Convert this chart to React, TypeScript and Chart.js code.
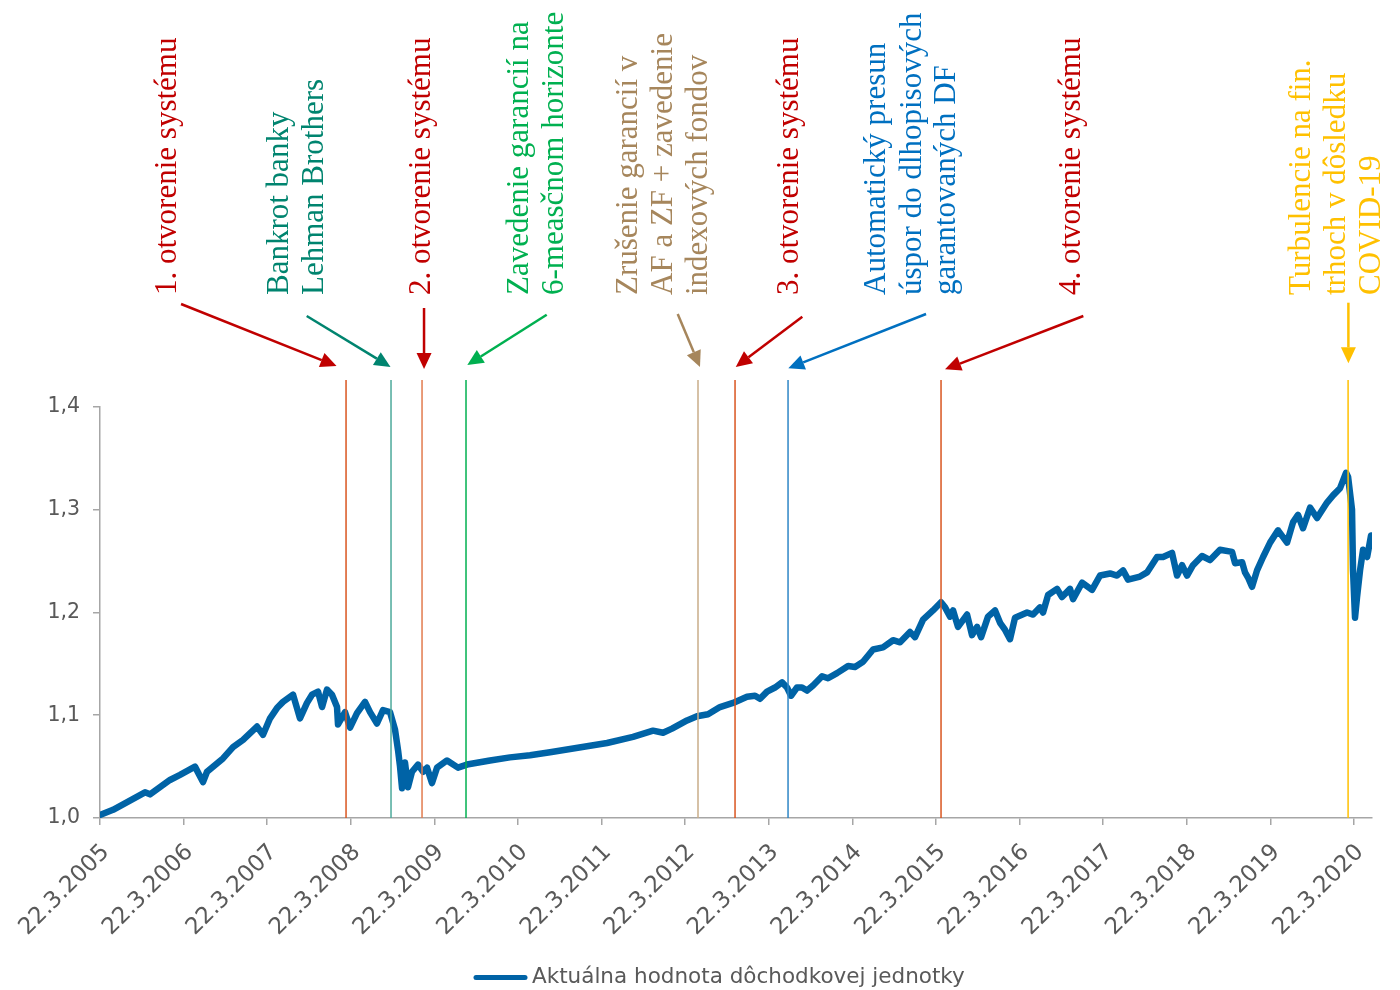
import React, { useEffect, useRef } from 'react';
import { Chart, registerables } from 'chart.js';

Chart.register(...registerables);

// ---------- DATA ----------
const seriesLabel = 'Aktuálna hodnota dôchodkovej jednotky';

// decimal years
const dates = [
  2005.220, 2005.376, 2005.758, 2005.818, 2006.057, 2006.177, 2006.356, 2006.452, 2006.500, 2006.691,
  2006.811, 2006.931, 2007.098, 2007.170, 2007.254, 2007.337, 2007.409, 2007.529, 2007.612, 2007.696,
  2007.756, 2007.828, 2007.876, 2007.935, 2007.995, 2008.055, 2008.067, 2008.151, 2008.211, 2008.294,
  2008.390, 2008.450, 2008.533, 2008.605, 2008.689, 2008.749, 2008.785, 2008.809, 2008.833, 2008.868,
  2008.904, 2008.952, 2009.024, 2009.084, 2009.132, 2009.191, 2009.251, 2009.371, 2009.502, 2009.610,
  2009.885, 2010.124, 2010.364, 2010.603, 2011.285, 2011.596, 2011.835, 2011.955, 2012.062, 2012.242,
  2012.361, 2012.493, 2012.636, 2012.792, 2012.959, 2013.055, 2013.115, 2013.199, 2013.294, 2013.378,
  2013.438, 2013.486, 2013.557, 2013.617, 2013.677, 2013.749, 2013.857, 2013.928, 2014.036, 2014.168,
  2014.251, 2014.347, 2014.467, 2014.586, 2014.706, 2014.790, 2014.909, 2014.969, 2015.065, 2015.184,
  2015.280, 2015.328, 2015.388, 2015.424, 2015.483, 2015.591, 2015.651, 2015.711, 2015.759, 2015.842,
  2015.926, 2015.986, 2016.046, 2016.105, 2016.165, 2016.309, 2016.381, 2016.464, 2016.500, 2016.560,
  2016.668, 2016.727, 2016.823, 2016.859, 2016.967, 2017.086, 2017.182, 2017.302, 2017.385, 2017.457,
  2017.517, 2017.660, 2017.744, 2017.864, 2017.936, 2018.043, 2018.103, 2018.163, 2018.223, 2018.294,
  2018.402, 2018.498, 2018.617, 2018.761, 2018.797, 2018.881, 2018.916, 2018.952, 2019.000, 2019.060,
  2019.132, 2019.216, 2019.311, 2019.419, 2019.491, 2019.550, 2019.610, 2019.694, 2019.778, 2019.897,
  2019.969, 2020.053, 2020.125, 2020.149, 2020.196, 2020.208, 2020.232, 2020.256, 2020.292, 2020.328,
  2020.377, 2020.424,
];

const values = [
  1.003, 1.008, 1.025, 1.023, 1.037, 1.042, 1.050, 1.035, 1.045, 1.058,
  1.069, 1.076, 1.089, 1.081, 1.097, 1.107, 1.113, 1.120, 1.097, 1.112,
  1.120, 1.123, 1.108, 1.125, 1.120, 1.108, 1.091, 1.103, 1.088, 1.102,
  1.113, 1.103, 1.092, 1.105, 1.103, 1.086, 1.066, 1.050, 1.029, 1.054,
  1.030, 1.045, 1.052, 1.045, 1.049, 1.034, 1.049, 1.056, 1.049, 1.052,
  1.056, 1.059, 1.061, 1.064, 1.073, 1.079, 1.085, 1.083, 1.087, 1.095,
  1.099, 1.101, 1.108, 1.112, 1.118, 1.119, 1.116, 1.123, 1.127, 1.132,
  1.127, 1.119, 1.127, 1.127, 1.124, 1.129, 1.138, 1.136, 1.141, 1.148,
  1.147, 1.152, 1.164, 1.166, 1.173, 1.171, 1.181, 1.176, 1.193, 1.202,
  1.210, 1.205, 1.196, 1.202, 1.186, 1.198, 1.178, 1.186, 1.176, 1.196,
  1.202, 1.190, 1.183, 1.174, 1.195, 1.200, 1.198, 1.205, 1.200, 1.217,
  1.223, 1.215, 1.223, 1.213, 1.229, 1.222, 1.236, 1.238, 1.236, 1.241,
  1.232, 1.235, 1.239, 1.254, 1.254, 1.258, 1.236, 1.246, 1.236, 1.246,
  1.255, 1.251, 1.261, 1.259, 1.248, 1.249, 1.239, 1.234, 1.225, 1.241,
  1.254, 1.268, 1.280, 1.268, 1.288, 1.295, 1.282, 1.302, 1.292, 1.307,
  1.314, 1.321, 1.336, 1.332, 1.300, 1.241, 1.195, 1.215, 1.241, 1.261,
  1.254, 1.275,
];

const tickPositions = [
  2005.22, 2006.22, 2007.22, 2008.22, 2009.22, 2010.22, 2011.22, 2012.22,
  2013.22, 2014.22, 2015.22, 2016.22, 2017.22, 2018.22, 2019.22, 2020.22,
];
const tickLabels = [
  '22.3.2005', '22.3.2006', '22.3.2007', '22.3.2008', '22.3.2009', '22.3.2010', '22.3.2011', '22.3.2012',
  '22.3.2013', '22.3.2014', '22.3.2015', '22.3.2016', '22.3.2017', '22.3.2018', '22.3.2019', '22.3.2020',
];

const xMin = 2005.22;
const xMax = 2020.435;
const yMin = 1.0;
const yMax = 1.4;
const yStep = 0.1;

const eventDates = [2008.163, 2008.701, 2009.072, 2009.598, 2012.373, 2012.816, 2013.450, 2015.280, 2020.149];
const eventTexts = [
  ['1. otvorenie systému'],
  ['Bankrot banky', 'Lehman Brothers'],
  ['2. otvorenie systému'],
  ['Zavedenie garancií na', '6-measčnom horizonte'],
  ['Zrušenie garancií v', 'AF a ZF + zavedenie', 'indexových fondov'],
  ['3. otvorenie systému'],
  ['Automatický presun', 'úspor do dlhopisových', 'garantovaných DF'],
  ['4. otvorenie systému'],
  ['Turbulencie na fin.', 'trhoch v dôsledku', 'COVID-19'],
];

// ---------- STYLES / POSITIONS ----------
const RED = '#C00000';
const eventStyles = [
  { line: '#D9551F', text: RED, dx: [-170], from: [-165, 304], to: [-9.5, 366] },
  { line: '#4DA99B', text: '#00846F', dx: [-102.7, -67.7], from: [-84.3, 316], to: [-0.5, 367] },
  { line: '#E27B4E', text: RED, dx: [8], from: [2, 308], to: [2, 369] },
  { line: '#00B050', text: '#00B050', dx: [61.7, 97.3], from: [80.7, 314.7], to: [1.3, 365] },
  { line: '#C9AC88', text: '#A6865C', dx: [-60.7, -26.3, 8.7], from: [-20.3, 314], to: [2, 367] },
  { line: '#D9551F', text: RED, dx: [63.3], from: [67.3, 316.7], to: [0.7, 367] },
  { line: '#2E86C6', text: '#0070C0', dx: [97, 132.7, 167], from: [138, 314], to: [0.3, 368.3] },
  { line: '#D9551F', text: RED, dx: [139], from: [142.3, 316], to: [4, 369.3] },
  { line: '#FFC000', text: '#FFC000', dx: [-38, -3, 32], from: [0.3, 302.7], to: [0.3, 363.3] },
];
const EVENT_LINE_TOP = 380;
const TEXT_BOTTOM = 295;
const SERIES_COLOR = '#0063A6';
const AXIS_COLOR = '#A6A6A6';
const LABEL_COLOR = '#595959';
const SANS = '"DejaVu Sans", Verdana, sans-serif';
const SERIF = '"Liberation Serif", "DejaVu Serif", serif';

function drawArrow(ctx: CanvasRenderingContext2D, x1: number, y1: number, x2: number, y2: number, color: string) {
  const ang = Math.atan2(y2 - y1, x2 - x1);
  const headLen = 16;
  const headW = 7.5;
  const bx = x2 - headLen * Math.cos(ang);
  const by = y2 - headLen * Math.sin(ang);
  ctx.strokeStyle = color;
  ctx.lineWidth = 2.5;
  ctx.lineCap = 'butt';
  ctx.beginPath();
  ctx.moveTo(x1, y1);
  ctx.lineTo(bx, by);
  ctx.stroke();
  ctx.fillStyle = color;
  ctx.beginPath();
  ctx.moveTo(x2, y2);
  ctx.lineTo(bx + headW * Math.sin(ang), by - headW * Math.cos(ang));
  ctx.lineTo(bx - headW * Math.sin(ang), by + headW * Math.cos(ang));
  ctx.closePath();
  ctx.fill();
}

const eventsPlugin = {
  id: 'eventsPlugin',
  afterDatasetsDraw(chart: any) {
    const ctx: CanvasRenderingContext2D = chart.ctx;
    const xs = chart.scales.x;
    const area = chart.chartArea;
    ctx.save();
    eventDates.forEach((d, i) => {
      const st = eventStyles[i];
      const px = xs.getPixelForValue(d);
      ctx.strokeStyle = st.line;
      ctx.lineWidth = 1.5;
      ctx.beginPath();
      ctx.moveTo(px, EVENT_LINE_TOP);
      ctx.lineTo(px, area.bottom);
      ctx.stroke();

      ctx.fillStyle = st.text;
      ctx.font = `31px ${SERIF}`;
      ctx.textAlign = 'left';
      ctx.textBaseline = 'alphabetic';
      eventTexts[i].forEach((line, j) => {
        ctx.save();
        ctx.translate(px + st.dx[j], TEXT_BOTTOM);
        ctx.rotate(-Math.PI / 2);
        ctx.fillText(line, 0, 0);
        ctx.restore();
      });
      drawArrow(ctx, px + st.from[0], st.from[1], px + st.to[0], st.to[1], st.text);
    });
    ctx.restore();
  },
  afterDraw(chart: any) {
    // legend
    const ctx: CanvasRenderingContext2D = chart.ctx;
    const ds = chart.data.datasets[0];
    ctx.save();
    ctx.strokeStyle = ds.borderColor;
    ctx.lineWidth = 5;
    ctx.lineCap = 'round';
    ctx.beginPath();
    ctx.moveTo(476, 977.5);
    ctx.lineTo(525, 977.5);
    ctx.stroke();
    ctx.fillStyle = LABEL_COLOR;
    ctx.font = `21.5px ${SANS}`;
    ctx.textAlign = 'left';
    ctx.textBaseline = 'middle';
    ctx.fillText(ds.label, 532, 977);
    ctx.restore();
  },
};

export default function App() {
  const canvasRef = useRef<HTMLCanvasElement | null>(null);

  useEffect(() => {
    if (!canvasRef.current) return;
    const chart = new Chart(canvasRef.current, {
      type: 'line',
      data: {
        datasets: [
          {
            label: seriesLabel,
            data: dates.map((d, i) => ({ x: d, y: values[i] })),
            borderColor: SERIES_COLOR,
            backgroundColor: SERIES_COLOR,
            borderWidth: 6.5,
            pointRadius: 0,
            tension: 0,
            borderJoinStyle: 'round',
            borderCapStyle: 'round',
          } as any,
        ],
      },
      options: {
        animation: false,
        responsive: false,
        devicePixelRatio: 1,
        layout: { padding: { top: 407, right: 28, left: 0, bottom: 0 } },
        plugins: {
          legend: { display: false },
          tooltip: { enabled: false },
          title: { display: false },
        },
        scales: {
          x: {
            type: 'linear',
            min: xMin,
            max: xMax,
            bounds: 'data',
            afterBuildTicks: (s: any) => {
              s.ticks = tickPositions.map((v) => ({ value: v }));
            },
            afterFit: (s: any) => {
              s.height = 172;
            },
            ticks: {
              autoSkip: false,
              minRotation: 45,
              maxRotation: 45,
              padding: 14,
              labelOffset: 6,
              color: LABEL_COLOR,
              font: { family: SANS, size: 23 },
              callback: (_v: any, i: number) => tickLabels[i],
            },
            grid: {
              drawOnChartArea: false,
              drawTicks: true,
              tickLength: 7,
              color: AXIS_COLOR,
              lineWidth: 1.5,
            },
            border: { color: AXIS_COLOR, width: 1.5 },
          },
          y: {
            type: 'linear',
            min: yMin,
            max: yMax,
            afterFit: (s: any) => {
              s.width = 100;
            },
            ticks: {
              stepSize: yStep,
              padding: 13,
              color: LABEL_COLOR,
              font: { family: SANS, size: 20.5 },
              callback: (v: any) => Number(v).toFixed(1).replace('.', ','),
            },
            grid: {
              drawOnChartArea: false,
              drawTicks: true,
              tickLength: 7,
              color: AXIS_COLOR,
              lineWidth: 1.5,
            },
            border: { color: AXIS_COLOR, width: 1.5 },
          },
        },
      } as any,
      plugins: [eventsPlugin],
    });
    return () => chart.destroy();
  }, []);

  return (
    <div style={{ position: 'fixed', left: 0, top: 0, width: 1400, height: 990, background: '#ffffff' }}>
      <canvas ref={canvasRef} width={1400} height={990} style={{ width: 1400, height: 990, display: 'block' }} />
    </div>
  );
}
